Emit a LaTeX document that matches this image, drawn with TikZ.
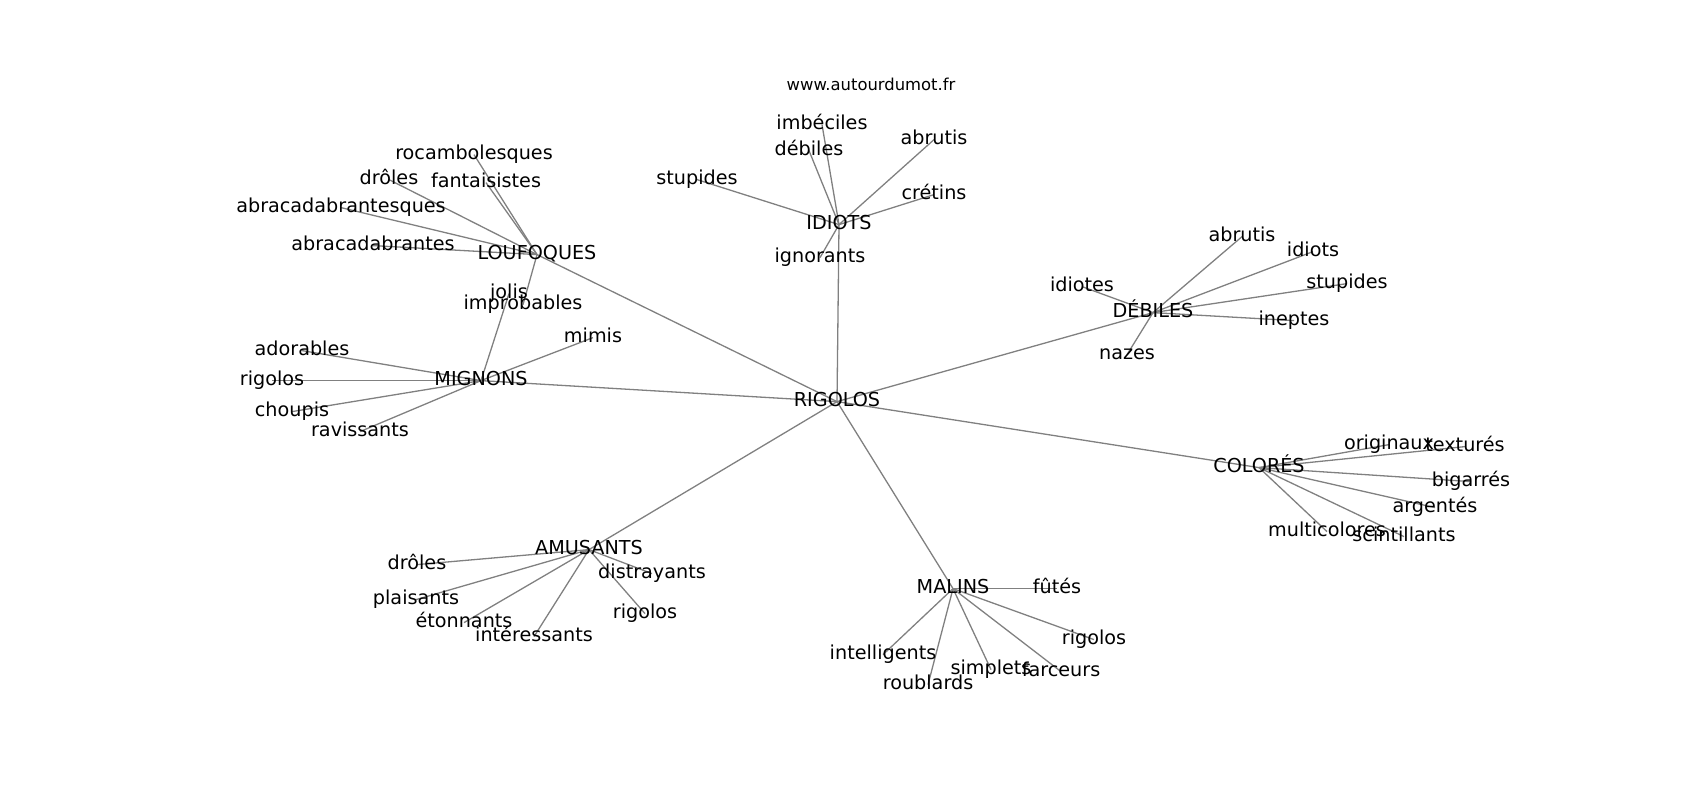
\documentclass[tikz,border=0pt]{standalone}
\usepackage{fontspec}
\setmainfont{DejaVu Sans}
\usetikzlibrary{backgrounds}

\begin{document}
\begin{tikzpicture}[x=0.5pt, y=-0.5pt,
    mot/.style={inner sep=0pt, text height=0.76em, text depth=0.24em, font=\fontsize{9.6}{11.5}\selectfont},
    lien/.style={draw=gray, line width=0.65pt}]
            \useasboundingbox (0,0) rectangle (1700,800);
            \begin{scope}[yshift=-0.8pt]
            \node[inner sep=0pt, font=\fontsize{8.2}{10}\selectfont] (site) at (871,83) {www.autourdumot.fr};

            \node[mot] (rig) at (837,400) {RIGOLOS};
            \node[mot] (lou) at (537,253) {LOUFOQUES};
            \node[mot] (idi) at (839,223) {IDIOTS};
            \node[mot] (deb) at (1153,311) {DÉBILES};
            \node[mot] (col) at (1259,466) {COLORÉS};
            \node[mot] (amu) at (589,548) {AMUSANTS};
            \node[mot] (mal) at (953,587) {MALINS};
            \node[mot] (mig) at (481,379) {MIGNONS};

            \node[mot] (lou1) at (474,153) {rocambolesques};
            \node[mot] (lou2) at (389,178) {drôles};
            \node[mot] (lou3) at (486,181) {fantaisistes};
            \node[mot] (lou4) at (341,206) {abracadabrantesques};
            \node[mot] (lou5) at (373,244) {abracadabrantes};
            \node[mot] (lou6) at (523,303) {improbables};

            \node[mot] (idi1) at (822,123) {imbéciles};
            \node[mot] (idi2) at (809,149) {débiles};
            \node[mot] (idi3) at (934,138) {abrutis};
            \node[mot] (idi4) at (934,193) {crétins};
            \node[mot] (idi5) at (697,178) {stupides};
            \node[mot] (idi6) at (820,256) {ignorants};

            \node[mot] (deb1) at (1242,235) {abrutis};
            \node[mot] (deb2) at (1313,250) {idiots};
            \node[mot] (deb3) at (1347,282) {stupides};
            \node[mot] (deb4) at (1294,319) {ineptes};
            \node[mot] (deb5) at (1127,353) {nazes};
            \node[mot] (deb6) at (1082,285) {idiotes};

            \node[mot] (col1) at (1389,443) {originaux};
            \node[mot] (col2) at (1465,445) {texturés};
            \node[mot] (col3) at (1471,480) {bigarrés};
            \node[mot] (col4) at (1435,506) {argentés};
            \node[mot] (col5) at (1327,530) {multicolores};
            \node[mot] (col6) at (1404,535) {scintillants};

            \node[mot] (amu1) at (417,563) {drôles};
            \node[mot] (amu2) at (416,598) {plaisants};
            \node[mot] (amu3) at (464,621) {étonnants};
            \node[mot] (amu4) at (534,635) {intéressants};
            \node[mot] (amu5) at (652,572) {distrayants};
            \node[mot] (amu6) at (645,612) {rigolos};

            \node[mot] (mal1) at (1057,587) {fûtés};
            \node[mot] (mal2) at (1094,638) {rigolos};
            \node[mot] (mal3) at (1061,670) {farceurs};
            \node[mot] (mal4) at (991,668) {simplets};
            \node[mot] (mal5) at (928,683) {roublards};
            \node[mot] (mal6) at (883,653) {intelligents};

            \node[mot] (mig1) at (302,349) {adorables};
            \node[mot] (mig2) at (272,379) {rigolos};
            \node[mot] (mig3) at (292,410) {choupis};
            \node[mot] (mig4) at (360,430) {ravissants};
            \node[mot] (mig5) at (593,336) {mimis};
            \node[mot] (mig6) at (509,292) {jolis};
            \end{scope}

            \begin{scope}[on background layer]
            \foreach \c in {lou,idi,deb,col,amu,mal,mig}
                \draw[lien] (rig.center) -- (\c.center);
            \foreach \c in {lou,idi,deb,col,amu,mal,mig}
                \foreach \i in {1,...,6}
                    \draw[lien] (\c.center) -- (\c\i.center);
            \end{scope}
        \end{tikzpicture}
\end{document}
